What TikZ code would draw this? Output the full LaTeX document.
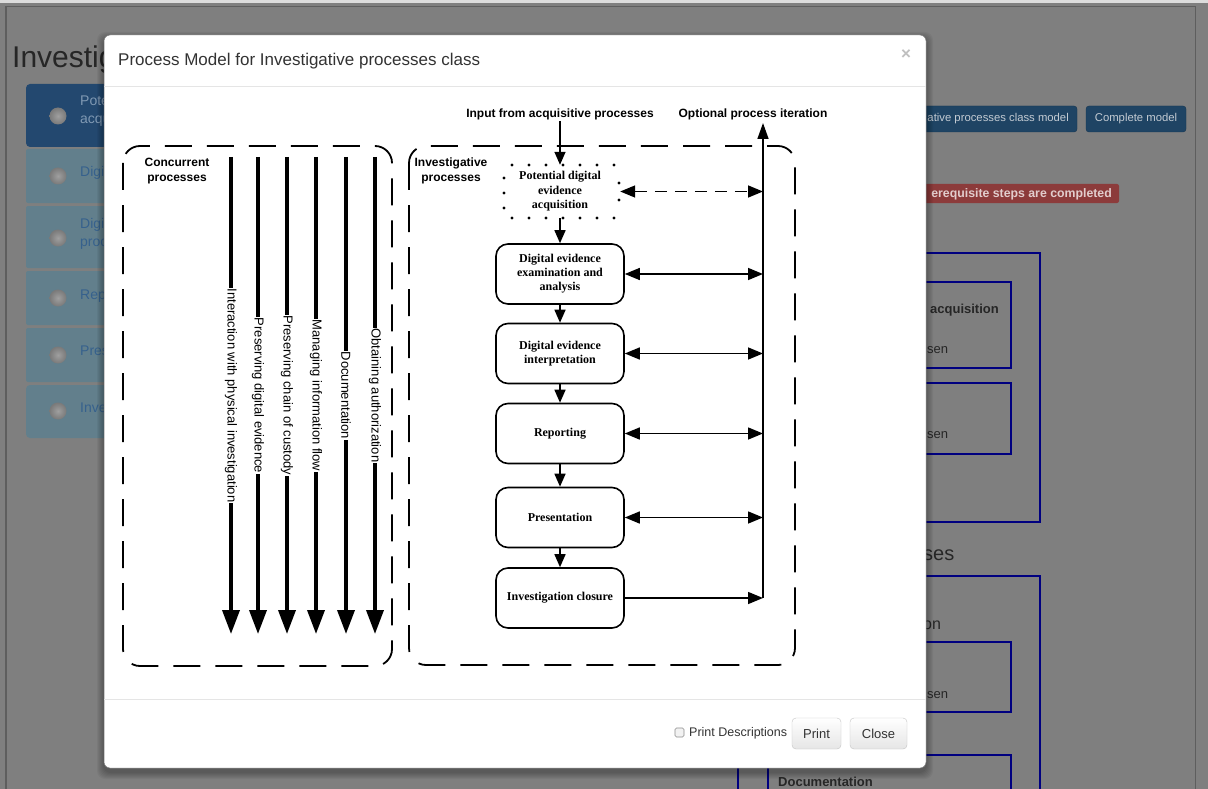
\documentclass[tikz,border=0pt]{standalone}
\usepackage{fontspec}
\setmainfont{Liberation Sans}
\newfontfamily\serifb{Liberation Serif}
\usetikzlibrary{arrows.meta}
\definecolor{pagedim}{HTML}{7F7F7F}
\definecolor{topstrip}{HTML}{DCDCDC}
\definecolor{framegray}{HTML}{5E5E5E}
\definecolor{itemA}{HTML}{23486F}
\definecolor{itemB}{HTML}{627F8C}
\definecolor{itemAtxt}{HTML}{8099B3}
\definecolor{itemBtxt}{HTML}{36618D}
\definecolor{btnblue}{HTML}{1F4464}
\definecolor{btnedge}{HTML}{173650}
\definecolor{btntxt}{HTML}{C3CBD3}
\definecolor{redlbl}{HTML}{8C3B3B}
\definecolor{redtxt}{HTML}{E2CDCD}
\definecolor{navyline}{HTML}{000080}
\definecolor{bgtext}{HTML}{262626}
\definecolor{titletxt}{HTML}{333333}
\definecolor{sepline}{HTML}{E5E5E5}
\definecolor{btnborder}{HTML}{C4C4C4}
\begin{document}
\begin{tikzpicture}[x=1pt,y=-1pt,
  proc/.style={draw, line width=1.6pt, rounded corners=12pt, minimum width=128pt, minimum height=60pt,
    align=center, inner sep=2pt, font=\serifb\bfseries\fontsize{12}{14}\selectfont},
  potbox/.style={minimum width=114pt, minimum height=53pt, align=center, inner sep=2pt,
    font=\serifb\bfseries\fontsize{12}{14.5}\selectfont},
  dotmark/.style={fill=black},
  arr/.style={-{Triangle[length=13pt,width=11pt]}, line width=1.5pt},
  darr/.style={{Triangle[length=15pt,width=12pt]}-{Triangle[length=15pt,width=12pt]}, line width=1.5pt},
  bigarr/.style={-{Triangle[length=24pt,width=17pt]}, line width=3.6pt},
  dashbox/.style={dash pattern=on 27pt off 15pt, line width=1.8pt, rounded corners=17pt},
  conc/.style={fill=white, inner sep=1pt, rotate=-90, font=\fontsize{13}{14}\selectfont},
  hdr/.style={align=center, font=\bfseries\fontsize{12}{14.5}\selectfont},
  lbl/.style={font=\bfseries\fontsize{12}{14.5}\selectfont, inner sep=1pt},
  itemtxt/.style={anchor=base west, inner sep=0pt, font=\fontsize{14}{16}\selectfont},
  radio/.style={inner color=gray!75, outer color=gray!95!black},
  webbtn/.style={draw=btnborder, rounded corners=4pt, top color=white, bottom color=black!10},
]
\useasboundingbox (0,0) rectangle (1208,789);
% ---------- dimmed page behind the modal ----------
\fill[pagedim] (0,0) rectangle (1208,789);
\fill[topstrip] (0,0) rectangle (1208,3);
\draw[framegray, line width=1.2pt] (6,789) -- (6,6.5) -- (1195.5,6.5) -- (1195.5,789);
\node[anchor=base west, inner sep=0pt, text=bgtext, font=\fontsize{30}{32}\selectfont] (bgtitle) at (12,68) {Investig};
% list items
\fill[itemA, rounded corners=4pt] (26,84) rectangle (112,147);
\fill[itemB, rounded corners=2pt] (26,149) rectangle (112,203);
\fill[itemB, rounded corners=2pt] (26,206) rectangle (112,268);
\fill[itemB, rounded corners=2pt] (26,271) rectangle (112,325);
\fill[itemB, rounded corners=2pt] (26,328) rectangle (112,382);
\fill[itemB, rounded corners=4pt] (26,385) rectangle (112,438);
\foreach \yy in {116,176,238,298,355,411} {
  \shade[radio] (58,\yy) circle (8.5pt);
}
\node[itemtxt, text=itemAtxt] (i1a) at (80,106) {Pote};
\node[itemtxt, text=itemAtxt] (i1b) at (80,124) {acqu};
\node[itemtxt, text=itemBtxt] (i2) at (80,177) {Digi};
\node[itemtxt, text=itemBtxt] (i3a) at (80,228) {Digi};
\node[itemtxt, text=itemBtxt] (i3b) at (80,246) {proc};
\node[itemtxt, text=itemBtxt] (i4) at (80,299) {Rep};
\node[itemtxt, text=itemBtxt] (i5) at (80,355) {Pres};
\node[itemtxt, text=itemBtxt] (i6) at (80,412) {Inve};
% right side of the page
\fill[btnblue, draw=btnedge, rounded corners=3pt] (900,106) rectangle (1077,132);
\node[anchor=east, text=btntxt, inner sep=0pt, font=\fontsize{11.3}{13}\selectfont] (btn1) at (1069,119) {ative processes class model};
\fill[btnblue, draw=btnedge, rounded corners=3pt] (1086,106) rectangle (1186,132);
\node[text=btntxt, inner sep=0pt, font=\fontsize{11.3}{13}\selectfont] (btn2) at (1136,119) {Complete model};
\fill[redlbl, rounded corners=2pt] (900,184) rectangle (1119,203);
\node[anchor=east, text=redtxt, inner sep=0pt, font=\bfseries\fontsize{12.3}{14}\selectfont] (warn) at (1112,194) {erequisite steps are completed};
\draw[navyline, line width=2pt] (738,253) rectangle (1040,522);
\draw[navyline, line width=1.2pt] (768,282) rectangle (1011,368);
\draw[navyline, line width=1.2pt] (768,383) rectangle (1011,454);
\draw[navyline, line width=2pt] (738,576) -- (1040,576) -- (1040,795) (738,576) -- (738,795);
\draw[navyline, line width=1.2pt] (768,642) rectangle (1011,712);
\draw[navyline, line width=1.2pt] (768,795) -- (768,755) -- (1011,755) -- (1011,795);
\node[anchor=base east, inner sep=0pt, text=bgtext, font=\bfseries\fontsize{13}{15}\selectfont] (bA) at (999,313) {e acquisition};
\node[anchor=base west, inner sep=0pt, text=bgtext, font=\fontsize{13}{15}\selectfont] (bB) at (927,353) {sen};
\node[anchor=base west, inner sep=0pt, text=bgtext, font=\fontsize{13}{15}\selectfont] (bC) at (927,438) {sen};
\node[anchor=base west, inner sep=0pt, text=bgtext, font=\fontsize{20}{22}\selectfont] (bD) at (923,560) {ses};
\node[anchor=base west, inner sep=0pt, text=bgtext, font=\fontsize{16}{18}\selectfont] (bE) at (923,629) {on};
\node[anchor=base west, inner sep=0pt, text=bgtext, font=\fontsize{13}{15}\selectfont] (bF) at (927,698) {sen};
\node[anchor=base west, inner sep=0pt, text=bgtext, font=\bfseries\fontsize{13}{15}\selectfont] (bG) at (778,786) {Documentation};
% ---------- modal ----------
\foreach \k in {1,...,7} {
  \fill[black, opacity=0.045, rounded corners=8pt] (104-\k,35-\k+4) rectangle (926+\k,768+\k+4);
}
\fill[white, draw=black!55, line width=0.5pt, rounded corners=6pt] (104,35) rectangle (926,768);
\node[anchor=base west, inner sep=0pt, text=titletxt, font=\fontsize{17}{19}\selectfont] (title) at (118,66) {Process Model for Investigative processes class};
\node[text=black!25, inner sep=0pt, font=\bfseries\fontsize{17}{19}\selectfont] (closex) at (906,55) {×};
\draw[sepline, line width=1pt] (104,87) -- (926,87);
\draw[sepline, line width=1pt] (104,699) -- (926,699);
% ---------- diagram ----------
\draw[dashbox] (123,146) rectangle (392,666);
\draw[dashbox] (409,146) rectangle (795,665);
\node[hdr] (conchdr) at (177,171) {Concurrent\\processes};
\node[hdr] (invhdr) at (451,171) {Investigative\\processes};
\foreach \i/\x/\t in {1/231/Interaction with physical investigation,
                      2/258/Preserving digital evidence,
                      3/287/Preserving chain of custody,
                      4/316/Managing information flow,
                      5/346/Documentation,
                      6/375/Obtaining authorization} {
  \coordinate (ct\i) at (\x,157);
  \coordinate (cb\i) at (\x,634);
  \draw[bigarr] (ct\i) -- node[conc] {\t} (cb\i);
}
\node[lbl] (inp) at (560,114) {Input from acquisitive processes};
\node[lbl] (opt) at (753,114) {Optional process iteration};
\node[potbox] (pot) at (560,191.5) {Potential digital\\evidence\\acquisition};
% dotted outline of the potential acquisition step
\foreach \dx in {512,529,546,563,580,597,614} {
  \fill[dotmark] (\dx,165) circle (1.6pt);
  \fill[dotmark] (\dx,218) circle (1.6pt);
}
\foreach \dy in {178,193,208} { \fill[dotmark] (504,\dy) circle (1.6pt); }
\foreach \dy in {183,200} { \fill[dotmark] (619,\dy) circle (1.6pt); }
\node[proc] (b1) at (560,274) {Digital evidence\\examination and\\analysis};
\node[proc] (b2) at (560,353.5) {Digital evidence\\interpretation};
\node[proc] (b3) at (560,433.5) {Reporting};
\node[proc] (b4) at (560,517.5) {Presentation};
\node[proc] (b5) at (560,598) {Investigation closure};
\draw[arr] (inp.south) -- (pot.north);
\draw[arr] (pot.south) -- (b1.north);
\draw[arr] (b1.south) -- (b2.north);
\draw[arr] (b2.south) -- (b3.north);
\draw[arr] (b3.south) -- (b4.north);
\draw[arr] (b4.south) -- (b5.north);
\coordinate (itB) at (763,598);
\coordinate (itT) at (763,123);
\draw[line width=1.5pt, -{Triangle[length=16pt,width=11pt]}] (itB) -- (itT);
\draw[darr, dash pattern=on 12pt off 8pt] ([xshift=3pt]pot.east) -- (pot.east -| itT);
\draw[darr] (b1.east) -- (b1.east -| itT);
\draw[darr] (b2.east) -- (b2.east -| itT);
\draw[darr] (b3.east) -- (b3.east -| itT);
\draw[darr] (b4.east) -- (b4.east -| itT);
\draw[line width=1.5pt, -{Triangle[length=15pt,width=12pt]}] (b5.east) -- (b5.east -| itT);
% ---------- footer ----------
\draw[black!45, fill=black!5, rounded corners=1.5pt, line width=0.6pt] (675,728) rectangle (684,737);
\node[anchor=west, inner sep=0pt, text=titletxt, font=\fontsize{12.5}{14}\selectfont] (pdesc) at (689,733) {Print Descriptions};
\path[webbtn] (792,718) rectangle (841,749);
\node[text=titletxt, font=\fontsize{13}{15}\selectfont] (printbtn) at (816.5,733.5) {Print};
\path[webbtn] (850,718) rectangle (907,749);
\node[text=titletxt, font=\fontsize{13}{15}\selectfont] (closebtn) at (878.5,733.5) {Close};
\end{tikzpicture}
\end{document}
